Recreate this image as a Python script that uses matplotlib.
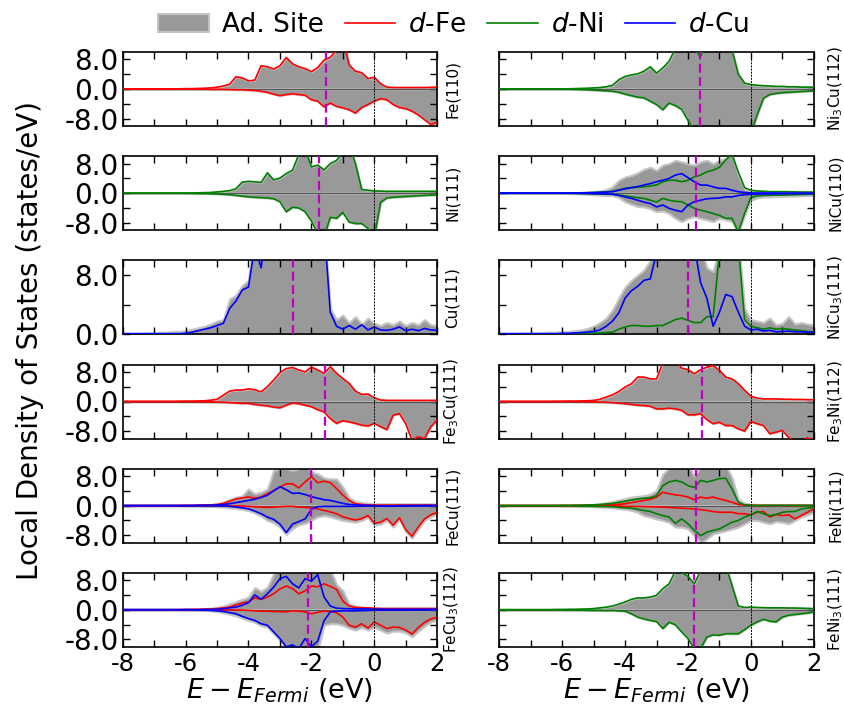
import numpy as np
import matplotlib
matplotlib.use("Agg")
import matplotlib.pyplot as plt
from matplotlib.patches import Patch
from matplotlib.lines import Line2D
from matplotlib.ticker import MultipleLocator, FormatStrFormatter

plt.rcParams["axes.unicode_minus"] = False

# energy grid (eV), 0.2 eV steps
E = np.round(np.linspace(-8.0, 2.0, 51), 2)

# ---- left column ----
FE110_FE_UP = [0, 0, 0, 0, 0, 0, 0, 0, 0.05, 0.05,
               0.1, 0.1, 0.15, 0.2, 0.3, 0.5, 0.8, 1.3, 3.3, 3.0,
               2.2, 2.4, 6.3, 6.0, 5.4, 6.3, 8.5, 6.8, 6.0, 5.5,
               4.7, 5.8, 7.8, 8.6, 10.5, 14, 6.5, 4.8, 4.4, 2.8,
               3.2, 1.4, 0.5, 0.4, 0.4, 0.4, 0.4, 0.4, 0.4, 0.45,
               0.5]
FE110_FE_DN = [0, 0, 0, 0, 0, 0, 0, 0, 0, 0,
               0, 0, -0.05, -0.05, -0.1, -0.1, -0.1, -0.15, -0.2, -0.2,
               -0.3, -0.4, -0.6, -0.9, -1.4, -1.8, -1.5, -1.3, -1.5, -1.7,
               -2.9, -3.3, -4.8, -3.8, -4.7, -5.1, -5.6, -6.5, -5.0, -4.2,
               -3.3, -2.6, -2.9, -4.2, -5.0, -5.3, -6.0, -7.0, -8.3, -9.6,
               -9.0]

NI111_NI_UP = [0, 0, 0, 0, 0, 0, 0, 0, 0, 0,
               0.05, 0.05, 0.1, 0.15, 0.2, 0.35, 0.5, 0.7, 1.2, 3.0,
               3.2, 3.1, 2.9, 5.5, 3.6, 4.1, 5.3, 6.2, 10.5, 12,
               7.1, 7.6, 6.3, 8.0, 8.9, 11, 13, 8.0, 1.0, 0.8,
               0.6, 0.55, 0.5, 0.5, 0.5, 0.5, 0.5, 0.5, 0.5, 0.5,
               0.5]
NI111_NI_DN = [0, 0, 0, 0, 0, 0, 0, 0, 0, 0,
               -0.05, -0.05, -0.1, -0.1, -0.15, -0.2, -0.3, -0.4, -0.6, -0.8,
               -1.0, -1.1, -1.2, -1.3, -1.5, -2.3, -5.0, -3.8, -4.0, -5.0,
               -7.5, -11, -12, -6.5, -6.8, -5.2, -7.8, -8.2, -8.2, -9.5,
               -12, -2.5, -1.3, -1.1, -1.0, -0.9, -0.8, -0.7, -0.6, -0.5,
               -0.5]

CU111_CU = [0.1, 0.1, 0.1, 0.1, 0.1, 0.1, 0.1, 0.1, 0.1, 0.1,
            0.15, 0.3, 0.5, 0.7, 0.9, 1.2, 1.5, 3.5, 4.5, 6.0,
            6.4, 12, 9.0, 15, 15, 15, 15, 15, 15, 15,
            15, 15, 15, 3.0, 1.1, 0.7, 1.2, 0.7, 1.3, 0.6,
            1.0, 0.6, 0.55, 0.7, 1.0, 0.5, 0.7, 0.5, 0.8, 0.6,
            0.55]
CU111_AD = [0.15, 0.15, 0.15, 0.15, 0.2, 0.2, 0.3, 0.3, 0.4, 0.4,
            0.5, 0.7, 0.9, 1.1, 1.4, 1.8, 2.0, 4.8, 5.3, 6.6,
            7.3, 15, 15, 15, 15, 15, 15, 15, 15, 15,
            15, 15, 15, 3.5, 2.0, 2.6, 1.6, 2.4, 1.4, 2.2,
            1.5, 1.2, 1.6, 1.3, 1.8, 1.2, 1.6, 1.3, 2.0, 1.3,
            1.2]

FE3CU_FE_UP = [0, 0, 0, 0, 0, 0, 0, 0, 0, 0.05,
               0.1, 0.1, 0.15, 0.2, 0.35, 0.6, 1.7, 2.8, 3.1, 3.1,
               3.4, 3.2, 2.6, 4.0, 5.8, 7.8, 8.9, 9.2, 8.5, 8.0,
               9.3, 8.5, 7.6, 9.4, 7.6, 6.2, 4.9, 2.8, 1.9, 2.0,
               1.0, 0.4, 0.3, 0.3, 0.3, 0.3, 0.3, 0.3, 0.3, 0.3,
               0.3]
FE3CU_FE_DN = [0, 0, 0, 0, 0, 0, 0, 0, 0, 0,
               -0.05, -0.05, -0.1, -0.1, -0.1, -0.15, -0.2, -0.3, -0.4, -0.5,
               -0.5, -0.8, -1.0, -1.2, -1.5, -1.7, -1.0, -0.4, -0.6, -1.0,
               -1.4, -2.2, -2.8, -4.6, -5.9, -5.2, -5.5, -5.9, -6.4, -6.6,
               -5.9, -6.8, -7.6, -3.7, -3.3, -6.0, -10.5, -9.5, -10, -6.8,
               -5.0]

FECU_FE_UP = [0, 0, 0, 0, 0, 0, 0, 0, 0, 0,
              0.05, 0.05, 0.1, 0.15, 0.2, 0.3, 0.6, 1.2, 1.8, 2.1,
              2.3, 2.0, 2.3, 3.2, 4.0, 5.0, 5.9, 5.9, 4.8, 6.4,
              7.8, 6.2, 6.6, 6.2, 4.6, 2.8, 1.4, 0.5, 0.3, 0.2,
              0.15, 0.15, 0.15, 0.15, 0.15, 0.15, 0.15, 0.15, 0.15, 0.15,
              0.15]
FECU_CU_UP = [0, 0, 0, 0, 0, 0, 0, 0, 0, 0,
              0, 0, 0.05, 0.05, 0.1, 0.15, 0.3, 0.5, 0.8, 1.1,
              1.4, 1.7, 2.2, 2.8, 4.0, 5.1, 4.3, 3.3, 3.4, 3.0,
              2.4, 2.0, 1.6, 1.4, 1.0, 0.6, 0.3, 0.2, 0.1, 0.05,
              0, -0.1, -0.2, -0.1, 0, 0, 0, 0, 0, 0,
              0]
FECU_AD_UP = [0, 0, 0, 0, 0, 0, 0, 0, 0.05, 0.05,
              0.1, 0.1, 0.15, 0.2, 0.3, 0.5, 0.9, 1.7, 2.3, 2.6,
              4.5, 3.2, 3.6, 4.5, 9.5, 10, 10, 9.5, 10, 11,
              9.0, 8.6, 7.5, 7.2, 7.2, 5.0, 2.2, 1.2, 0.8, 0.6,
              0.5, 0.5, 0.5, 0.5, 0.5, 0.5, 0.5, 0.5, 0.5, 0.5,
              0.5]
FECU_FE_DN = [0, 0, 0, 0, 0, 0, 0, 0, 0, 0,
              0, 0, 0, 0, 0, 0, -0.05, -0.05, -0.1, -0.1,
              -0.2, -0.3, -0.4, -0.5, -0.4, -0.3, -0.2, -0.2, -0.4, -0.5,
              -0.6, -0.9, -1.3, -1.7, -2.2, -3.0, -3.5, -3.9, -3.5, -2.7,
              -4.8, -4.5, -3.5, -5.3, -3.3, -6.5, -8.3, -5.8, -3.6, -2.5,
              -1.8]
FECU_CU_DN = [0, 0, 0, 0, 0, 0, 0, 0, 0, 0,
              0, 0, 0, 0, -0.05, -0.05, -0.1, -0.2, -0.4, -0.6,
              -0.9, -1.5, -2.2, -3.1, -3.7, -5.0, -7.3, -5.0, -4.3, -3.6,
              -1.0, -0.3, -0.2, -0.2, -0.2, -0.2, -0.2, -0.2, -0.15, -0.1,
              -0.1, -0.1, -0.1, -0.1, -0.1, -0.1, -0.05, -0.05, 0, 0,
              0]
FECU_AD_DN = [0, 0, 0, 0, 0, 0, 0, 0, 0, 0,
              -0.05, -0.05, -0.1, -0.15, -0.2, -0.3, -0.4, -0.6, -0.8, -1.0,
              -1.3, -2.0, -2.8, -4.0, -4.6, -5.8, -7.8, -6.2, -5.2, -4.8,
              -4.0, -3.0, -2.7, -3.0, -3.5, -4.0, -4.2, -4.5, -4.0, -3.2,
              -5.3, -5.0, -4.0, -5.8, -3.8, -7.0, -8.8, -6.3, -4.0, -3.0,
              -2.2]

FECU3_FE_UP = [0, 0, 0, 0, 0, 0, 0, 0, 0, 0,
               0.05, 0.05, 0.1, 0.15, 0.2, 0.3, 0.5, 0.7, 1.3, 1.8,
               2.1, 3.2, 2.8, 3.4, 4.3, 5.6, 6.4, 5.7, 4.3, 5.1,
               6.4, 6.2, 7.0, 6.3, 5.5, 2.3, 1.0, 0.6, 0.5, 0.5,
               0.4, 0.3, 0.3, 0.3, 0.3, 0.3, 0.3, 0.3, 0.3, 0.3,
               0.3]
FECU3_CU_UP = [0, 0, 0, 0, 0, 0, 0, 0, 0, 0,
               0, 0, 0, 0.05, 0.05, 0.1, 0.3, 0.5, 0.7, 1.2,
               1.9, 4.0, 2.8, 4.3, 6.1, 8.4, 9.0, 7.0, 5.9, 8.4,
               7.7, 9.5, 3.5, 1.0, 0.4, 0.3, 0.25, 0.2, 0.2, 0.2,
               0.15, 0.15, 0.1, 0.1, 0.1, 0.1, 0.1, 0.1, 0.1, 0.1,
               0.1]
FECU3_AD_UP = [0, 0, 0, 0, 0, 0, 0, 0, 0.05, 0.05,
               0.1, 0.15, 0.2, 0.3, 0.4, 0.6, 1.0, 1.6, 2.2, 2.8,
               3.4, 6.0, 5.0, 6.1, 9.7, 11, 12, 12, 12, 12,
               12, 12, 12, 11, 6.8, 5.2, 1.6, 1.0, 0.8, 0.6,
               0.5, 0.5, 0.5, 0.5, 0.5, 0.5, 0.5, 0.5, 0.5, 0.5,
               0.5]
FECU3_FE_DN = [0, 0, 0, 0, 0, 0, 0, 0, 0, 0,
               0, 0, 0, 0, 0, 0, -0.05, -0.05, -0.1, -0.1,
               -0.2, -0.3, -0.4, -0.4, -0.5, -0.5, -0.6, -0.3, -0.4, -0.6,
               -1.1, -0.7, -0.4, -0.5, -0.8, -2.0, -4.2, -4.7, -3.8, -5.0,
               -3.3, -4.2, -5.1, -4.7, -4.8, -5.5, -6.6, -4.8, -3.4, -2.5,
               -2.0]
FECU3_CU_DN = [0, 0, 0, 0, 0, 0, 0, 0, 0, 0,
               0, 0, -0.05, -0.1, -0.2, -0.3, -0.5, -0.8, -1.1, -1.8,
               -2.4, -2.9, -3.8, -4.2, -6.0, -7.8, -10, -9.5, -10.5, -7.8,
               -10, -8.5, -3.0, -0.6, -0.4, -0.3, -0.3, -0.3, -0.25, -0.2,
               -0.15, -0.1, -0.1, -0.1, -0.1, -0.1, -0.1, -0.05, -0.05, 0,
               0]
FECU3_AD_DN = [0, 0, 0, 0, 0, 0, 0, 0, 0, 0,
               -0.05, -0.1, -0.15, -0.2, -0.3, -0.5, -0.8, -1.2, -1.7, -2.3,
               -2.9, -3.4, -4.3, -4.7, -6.5, -8.3, -11, -11, -11, -11,
               -11, -11, -4.2, -3.8, -3.8, -4.2, -5.0, -5.5, -4.8, -5.5,
               -4.7, -5.5, -6.3, -5.8, -5.8, -6.2, -7.3, -5.8, -4.4, -3.3,
               -2.8]

# ---- right column ----
NI3CU_NI_UP = [0, 0, 0, 0, 0, 0, 0, 0, 0, 0,
               0.05, 0.05, 0.1, 0.15, 0.2, 0.3, 0.4, 0.6, 1.0, 2.5,
               3.4, 3.8, 4.1, 4.8, 6.0, 4.3, 5.7, 7.5, 11, 12,
               12, 11, 8.6, 12, 13, 13, 13, 10.5, 4.0, 1.6,
               1.2, 1.0, 0.9, 0.8, 0.7, 0.7, 0.6, 0.6, 0.5, 0.5,
               0.5]
NI3CU_NI_DN = [0, 0, 0, 0, 0, 0, 0, 0, 0, 0,
               -0.05, -0.05, -0.1, -0.15, -0.2, -0.3, -0.4, -0.5, -0.6, -0.9,
               -1.4, -1.8, -2.2, -2.4, -3.3, -4.2, -5.6, -3.8, -4.5, -5.5,
               -8.5, -11, -12, -12, -12, -12, -12, -12, -12, -12,
               -12, -7.0, -2.5, -1.5, -1.2, -1.0, -0.9, -0.8, -0.7, -0.6,
               -0.5]

NICU_AD_UP = [0, 0, 0, 0, 0, 0, 0, 0, 0, 0,
              0.05, 0.1, 0.15, 0.2, 0.3, 0.4, 0.6, 1.0, 1.7, 3.5,
              4.4, 4.8, 5.5, 6.5, 7.0, 6.2, 7.6, 8.0, 8.9, 8.5,
              8.0, 7.6, 8.5, 8.9, 8.0, 8.9, 9.4, 10.5, 5.0, 1.1,
              0.7, 0.6, 0.6, 0.5, 0.5, 0.5, 0.5, 0.4, 0.4, 0.4,
              0.4]
NICU_NI_UP = [0, 0, 0, 0, 0, 0, 0, 0, 0, 0,
              0, 0.05, 0.05, 0.1, 0.15, 0.2, 0.3, 0.4, 0.5, 0.9,
              1.3, 1.5, 1.6, 1.7, 2.0, 2.2, 3.1, 3.5, 3.5, 3.1,
              3.5, 4.4, 4.9, 5.8, 6.2, 7.0, 9.0, 10.5, 5.7, 1.5,
              0.8, 0.6, 0.5, 0.4, 0.4, 0.4, 0.4, 0.35, 0.3, 0.3,
              0.3]
NICU_CU_UP = [0, 0, 0, 0, 0, 0, 0, 0, 0, 0,
              0, 0, 0.05, 0.05, 0.1, 0.15, 0.2, 0.3, 0.4, 0.8,
              1.2, 1.5, 1.8, 2.2, 2.6, 3.1, 3.5, 4.0, 4.9, 5.3,
              4.2, 3.1, 2.2, 2.2, 1.7, 1.3, 1.3, 0.8, 0.4, 0.2,
              0.05, 0.05, 0.05, 0.05, 0.05, 0, 0, 0, 0, 0,
              0]
NICU_AD_DN = [0, 0, 0, 0, 0, 0, 0, 0, 0, 0,
              -0.05, -0.1, -0.15, -0.2, -0.3, -0.4, -0.5, -0.6, -0.6, -1.2,
              -2.3, -3.0, -3.6, -3.7, -4.2, -5.0, -4.8, -5.5, -6.8, -7.7,
              -6.8, -6.3, -6.8, -7.2, -7.7, -6.8, -7.2, -7.7, -10.5, -6.0,
              -1.9, -1.3, -1.0, -1.0, -0.9, -0.9, -0.8, -0.8, -0.7, -0.7,
              -0.6]
NICU_NI_DN = [0, 0, 0, 0, 0, 0, 0, 0, 0, 0,
              0, -0.05, -0.05, -0.1, -0.15, -0.2, -0.25, -0.3, -0.3, -0.5,
              -0.7, -1.0, -1.2, -1.4, -1.9, -2.4, -1.4, -1.9, -2.2, -2.3,
              -3.2, -4.1, -4.6, -5.0, -5.5, -6.0, -6.8, -6.8, -10.5, -5.5,
              -1.1, -0.7, -0.6, -0.55, -0.5, -0.5, -0.45, -0.4, -0.35, -0.3,
              -0.3]
NICU_CU_DN = [0, 0, 0, 0, 0, 0, 0, 0, 0, 0,
              0, 0, 0, -0.05, -0.05, -0.1, -0.15, -0.2, -0.3, -0.6,
              -1.0, -1.4, -1.9, -2.4, -2.8, -3.7, -3.2, -4.1, -4.6, -5.0,
              -3.2, -2.3, -1.9, -1.5, -1.4, -1.3, -1.0, -1.0, -0.6, -0.4,
              -0.3, -0.2, -0.2, -0.2, -0.15, -0.15, -0.1, -0.1, -0.1, -0.1,
              -0.1]

NICU3_CU = [0.1, 0.1, 0.1, 0.1, 0.1, 0.1, 0.1, 0.1, 0.1, 0.1,
            0.15, 0.15, 0.2, 0.25, 0.3, 0.4, 0.6, 1.1, 1.8, 2.9,
            4.9, 5.9, 6.5, 7.3, 7.5, 11, 12, 12, 12, 12,
            12, 12, 7.0, 4.9, 1.1, 3.0, 5.4, 5.1, 3.0, 1.1,
            0.6, 0.7, 0.45, 0.55, 0.35, 0.4, 0.45, 0.35, 0.35, 0.3,
            0.3]
NICU3_NI = [0, 0, 0, 0, 0, 0, 0, 0, 0, 0,
            0, 0.05, 0.05, 0.1, 0.1, 0.15, 0.2, 0.25, 0.3, 0.7,
            1.0, 1.2, 1.2, 1.1, 1.1, 1.2, 1.2, 1.6, 2.0, 2.2,
            1.9, 1.6, 1.6, 2.4, 2.4, 11, 14, 14, 12, 2.0,
            1.1, 0.9, 0.7, 0.9, 0.7, 0.8, 0.7, 0.6, 0.5, 0.4,
            0.35]
NICU3_AD = [0.15, 0.15, 0.15, 0.15, 0.2, 0.2, 0.2, 0.25, 0.3, 0.3,
            0.35, 0.4, 0.5, 0.6, 0.8, 1.1, 1.6, 2.2, 3.3, 4.9,
            6.4, 7.3, 8.0, 8.7, 10, 12, 12, 12, 12, 12,
            12, 12, 12, 9.0, 8.5, 12, 14, 14, 13, 3.5,
            2.0, 1.8, 1.6, 2.2, 1.3, 1.5, 2.4, 1.4, 1.6, 1.4,
            1.3]

FE3NI_FE_UP = [0, 0, 0, 0, 0, 0, 0, 0, 0, 0.05,
               0.05, 0.1, 0.1, 0.15, 0.2, 0.3, 0.6, 1.2, 1.8, 2.7,
               3.9, 4.8, 6.6, 6.6, 6.1, 6.1, 10.5, 12, 11, 9.0,
               8.6, 7.5, 8.6, 9.3, 9.7, 8.4, 6.6, 6.1, 4.8, 3.0,
               1.4, 0.9, 0.7, 0.7, 0.7, 0.6, 0.6, 0.55, 0.55, 0.5,
               0.5]
FE3NI_FE_DN = [0, 0, 0, 0, 0, 0, 0, 0, 0, 0,
               0, 0, -0.05, -0.05, -0.1, -0.1, -0.15, -0.2, -0.3, -0.45,
               -0.6, -0.8, -1.0, -1.1, -1.3, -2.0, -2.0, -1.8, -2.0, -2.4,
               -3.6, -3.6, -3.3, -4.9, -6.0, -5.6, -6.5, -6.5, -7.4, -8.0,
               -5.4, -6.0, -6.5, -8.7, -8.3, -7.8, -9.7, -11, -11, -9.8,
               -10.5]

FENI_AD_UP = [0, 0, 0, 0, 0, 0, 0, 0, 0, 0.05,
              0.05, 0.1, 0.15, 0.2, 0.25, 0.35, 0.5, 0.8, 1.1, 1.5,
              1.9, 2.3, 2.5, 2.7, 3.1, 4.1, 8.5, 10.2, 11, 11,
              11, 8.0, 10.5, 11, 11, 11, 11, 7.5, 1.8, 0.6,
              0.4, 0.3, 0.3, 0.3, 0.3, 0.3, 0.3, 0.3, 0.3, 0.3,
              0.3]
FENI_NI_UP = [0, 0, 0, 0, 0, 0, 0, 0, 0, 0,
              0.05, 0.05, 0.1, 0.1, 0.15, 0.2, 0.3, 0.45, 0.6, 0.9,
              1.2, 1.5, 1.8, 2.0, 2.1, 2.7, 5.4, 6.4, 6.8, 6.4,
              5.4, 4.9, 6.8, 6.4, 6.8, 7.3, 7.4, 4.5, 0.9, 0.2,
              0.1, 0.05, 0.05, 0.05, 0.05, 0.05, 0.05, 0.05, 0.05, 0.05,
              0.05]
FENI_FE_UP = [0, 0, 0, 0, 0, 0, 0, 0, 0, 0,
              0, 0, 0, 0.05, 0.05, 0.1, 0.1, 0.15, 0.25, 0.35,
              0.5, 0.8, 1.1, 1.4, 1.7, 2.3, 3.6, 3.2, 2.9, 2.7,
              2.3, 1.6, 2.3, 2.0, 2.3, 1.8, 1.4, 0.9, 0.3, 0.15,
              0.1, 0.05, 0.05, 0.05, 0.05, 0.05, 0.05, 0.05, 0.05, 0.05,
              0.05]
FENI_AD_DN = [0, 0, 0, 0, 0, 0, 0, 0, 0, 0,
              -0.05, -0.1, -0.1, -0.15, -0.2, -0.3, -0.4, -0.5, -0.6, -0.8,
              -1.0, -1.3, -1.8, -2.7, -3.1, -3.6, -4.0, -4.5, -5.8, -5.8,
              -6.3, -8.1, -10, -9.0, -7.6, -7.2, -6.8, -6.3, -5.8, -4.9,
              -4.0, -4.0, -4.5, -4.9, -4.3, -4.5, -4.9, -4.0, -3.1, -2.5,
              -1.8]
FENI_NI_DN = [0, 0, 0, 0, 0, 0, 0, 0, 0, 0,
              0, -0.05, -0.05, -0.1, -0.15, -0.2, -0.25, -0.25, -0.3, -0.5,
              -0.6, -0.7, -1.0, -1.3, -1.6, -2.2, -2.7, -3.1, -4.8, -3.6,
              -4.9, -6.7, -8.1, -7.2, -6.7, -6.3, -5.4, -4.5, -4.0, -3.1,
              -2.5, -1.6, -2.2, -2.7, -2.4, -1.8, -1.6, -1.6, -0.9, -0.7,
              -0.4]
FENI_FE_DN = [0, 0, 0, 0, 0, 0, 0, 0, 0, 0,
              0, 0, 0, 0, 0, 0, 0, -0.05, -0.05, -0.1,
              -0.2, -0.2, -0.2, -0.25, -0.3, -0.35, -0.4, -0.5, -0.6, -0.7,
              -0.8, -0.9, -1.1, -1.3, -1.6, -1.8, -1.8, -1.8, -2.2, -2.2,
              -2.5, -1.8, -1.6, -3.1, -2.4, -2.7, -2.5, -3.6, -2.7, -1.8,
              -0.8]

FENI3_NI_UP = [0, 0, 0, 0, 0, 0, 0, 0, 0, 0.05,
               0.05, 0.1, 0.1, 0.15, 0.2, 0.3, 0.5, 0.7, 1.0, 1.5,
               2.1, 2.8, 3.2, 3.2, 3.4, 3.9, 5.7, 7.0, 10.5, 10.0,
               9.0, 7.0, 10.5, 12, 12, 12, 12, 6.5, 1.0, 0.6,
               0.7, 0.6, 0.55, 0.5, 0.5, 0.5, 0.45, 0.45, 0.4, 0.35,
               0.3]
FENI3_NI_DN = [0, 0, 0, 0, 0, 0, 0, 0, 0, 0,
               0, -0.05, -0.05, -0.1, -0.15, -0.2, -0.2, -0.25, -0.2, -0.3,
               -0.4, -1.1, -2.0, -2.5, -2.9, -3.2, -5.1, -3.4, -4.1, -6.0,
               -7.8, -10.5, -10.5, -7.4, -6.8, -6.9, -6.5, -6.5, -6.5, -5.4,
               -4.2, -3.3, -2.6, -3.1, -3.3, -2.0, -1.5, -1.3, -1.1, -0.9,
               -0.6]

# d-band centres (eV)
DBAND = {"Fe(110)": -1.55, "Ni(111)": -1.75, "Cu(111)": -2.6,
         "Fe$_3$Cu(111)": -1.57, "FeCu(111)": -2.02, "FeCu$_3$(112)": -2.11,
         "Ni$_3$Cu(112)": -1.63, "NiCu(110)": -1.73, "NiCu$_3$(111)": -2.0,
         "Fe$_3$Ni(112)": -1.56, "FeNi(111)": -1.76, "FeNi$_3$(111)": -1.81}

RED, GREEN, BLUE = "#ff0000", "#008000", "#0000ff"
AD_FACE, AD_EDGE = "#999999", "#c4c4c4"

# (column, row, name, ad-site up, ad-site down, [(colour, up, down), ...])
PANELS = [
    (0, 0, "Fe(110)", FE110_FE_UP, FE110_FE_DN, [(RED, FE110_FE_UP, FE110_FE_DN)]),
    (0, 1, "Ni(111)", NI111_NI_UP, NI111_NI_DN, [(GREEN, NI111_NI_UP, NI111_NI_DN)]),
    (0, 2, "Cu(111)", CU111_AD, None, [(BLUE, CU111_CU, None)]),
    (0, 3, "Fe$_3$Cu(111)", FE3CU_FE_UP, FE3CU_FE_DN, [(RED, FE3CU_FE_UP, FE3CU_FE_DN)]),
    (0, 4, "FeCu(111)", FECU_AD_UP, FECU_AD_DN,
     [(RED, FECU_FE_UP, FECU_FE_DN), (BLUE, FECU_CU_UP, FECU_CU_DN)]),
    (0, 5, "FeCu$_3$(112)", FECU3_AD_UP, FECU3_AD_DN,
     [(RED, FECU3_FE_UP, FECU3_FE_DN), (BLUE, FECU3_CU_UP, FECU3_CU_DN)]),
    (1, 0, "Ni$_3$Cu(112)", NI3CU_NI_UP, NI3CU_NI_DN, [(GREEN, NI3CU_NI_UP, NI3CU_NI_DN)]),
    (1, 1, "NiCu(110)", NICU_AD_UP, NICU_AD_DN,
     [(GREEN, NICU_NI_UP, NICU_NI_DN), (BLUE, NICU_CU_UP, NICU_CU_DN)]),
    (1, 2, "NiCu$_3$(111)", NICU3_AD, None, [(GREEN, NICU3_NI, None), (BLUE, NICU3_CU, None)]),
    (1, 3, "Fe$_3$Ni(112)", FE3NI_FE_UP, FE3NI_FE_DN, [(RED, FE3NI_FE_UP, FE3NI_FE_DN)]),
    (1, 4, "FeNi(111)", FENI_AD_UP, FENI_AD_DN,
     [(RED, FENI_FE_UP, FENI_FE_DN), (GREEN, FENI_NI_UP, FENI_NI_DN)]),
    (1, 5, "FeNi$_3$(111)", FENI3_NI_UP, FENI3_NI_DN, [(GREEN, FENI3_NI_UP, FENI3_NI_DN)]),
]

W_PX, H_PX = 845, 712
COL_X = [122.7, 499.3]
AX_W = 314.5
ROW_TOP = [52, 156.2, 260.4, 364.5, 468.6, 572.7]
AX_H = 74
LABEL_X = [1.048, 1.07]

fig = plt.figure(figsize=(W_PX / 100, H_PX / 100), dpi=100)

for col, row, name, ad_up, ad_dn, lines in PANELS:
    ax = fig.add_axes([COL_X[col] / W_PX, 1 - (ROW_TOP[row] + AX_H) / H_PX,
                       AX_W / W_PX, AX_H / H_PX])
    ax.fill_between(E, 0, ad_up, facecolor=AD_FACE, edgecolor=AD_EDGE, lw=1.5, zorder=1)
    if ad_dn is not None:
        ax.fill_between(E, 0, ad_dn, facecolor=AD_FACE, edgecolor=AD_EDGE, lw=1.5, zorder=1)
        ax.axhline(0, color="#555555", lw=0.9, zorder=2)
    for c, up, dn in lines:
        ax.plot(E, up, color=c, lw=1.2, zorder=3)
        if dn is not None:
            ax.plot(E, dn, color=c, lw=1.2, zorder=3)
    ax.axvline(0, color="k", lw=0.7, ls=(0, (2, 1.2)), zorder=4)
    ax.axvline(DBAND[name], color="#c000c0", lw=1.6, ls=(0, (4, 2)), zorder=5)

    ax.set_xlim(-8, 2)
    if ad_dn is not None:
        ax.set_ylim(-10, 10)
        ax.set_yticks([-8, 0, 8])
    else:
        ax.set_ylim(0, 10)
        ax.set_yticks([0, 8])
    ax.yaxis.set_minor_locator(MultipleLocator(4))
    ax.xaxis.set_major_locator(MultipleLocator(2))
    ax.xaxis.set_minor_locator(MultipleLocator(1))
    ax.yaxis.set_major_formatter(FormatStrFormatter("%.1f"))
    ax.tick_params(which="both", direction="in", top=True, right=True,
                   length=5, width=1.0)
    ax.tick_params(axis="y", labelsize=20, pad=3)
    ax.tick_params(axis="x", labelsize=17.5, pad=4)
    for sp in ax.spines.values():
        sp.set_linewidth(1.2)
    if col == 1:
        ax.set_yticklabels([])
    if row < 5:
        ax.set_xticklabels([])
    else:
        ax.set_xlabel(r"$E - E_{Fermi}$ (eV)", fontsize=19.5, labelpad=0)
    ax.text(LABEL_X[col], 0.5, name, rotation=90, ha="center", va="center",
            fontsize=11, transform=ax.transAxes)

fig.text(0.036, 0.522, "Local Density of States (states/eV)", rotation=90,
         ha="center", va="center", fontsize=20)

handles = [Patch(facecolor=AD_FACE, edgecolor=AD_EDGE, lw=1.5),
           Line2D([], [], color=RED, lw=1.2),
           Line2D([], [], color=GREEN, lw=1.2),
           Line2D([], [], color=BLUE, lw=1.2)]
labels = ["Ad. Site", "$d$-Fe", "$d$-Ni", "$d$-Cu"]
fig.legend(handles, labels, loc="upper center", bbox_to_anchor=(0.537, 1.016),
           ncol=4, frameon=False, fontsize=19, handlelength=1.9,
           handletextpad=0.5, columnspacing=0.8)

fig.savefig("out.png", dpi=100)
